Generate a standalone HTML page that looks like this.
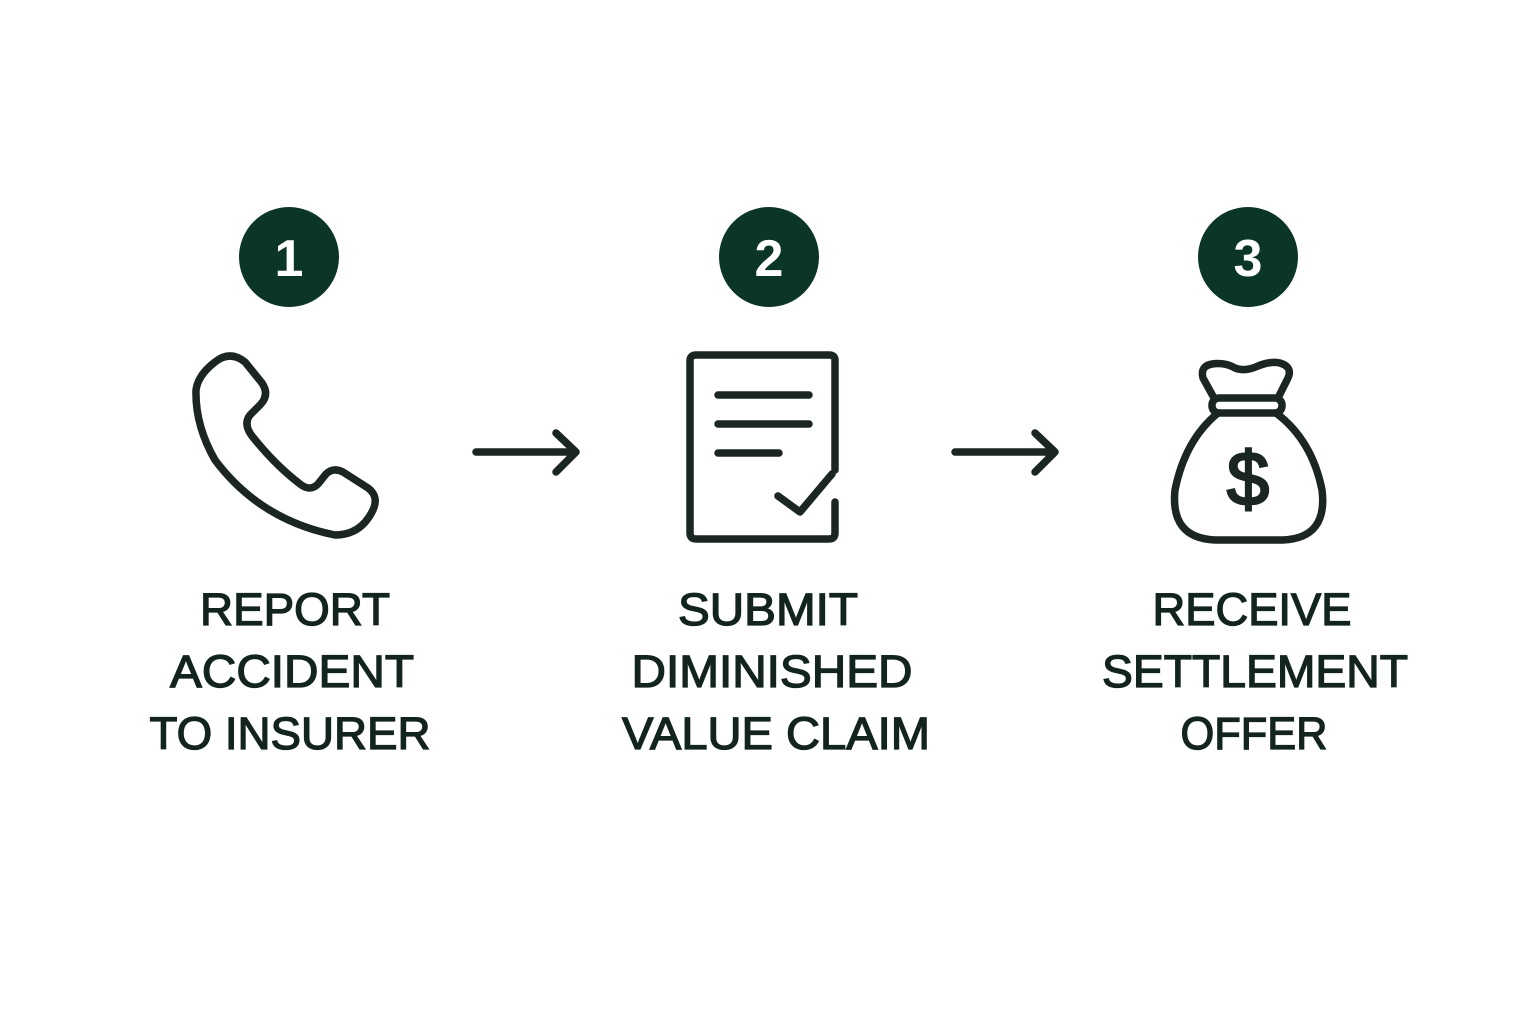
<!DOCTYPE html>
<html><head><meta charset="utf-8"><style>html,body{margin:0;padding:0;background:#fff}svg{display:block}</style></head>
<body>
<svg width="1536" height="1024" viewBox="0 0 1536 1024" xmlns="http://www.w3.org/2000/svg">
<rect width="1536" height="1024" fill="#fff"/>
<g fill="#0b3529">
<circle cx="289" cy="257" r="50"/><circle cx="769" cy="257" r="50"/><circle cx="1248" cy="257" r="50"/>
</g>
<g fill="#fff" font-family="Liberation Sans, sans-serif" font-weight="bold" font-size="52" text-anchor="middle">
<text x="289" y="276">1</text><text x="769" y="276">2</text><text x="1248" y="276">3</text>
</g>
<g fill="none" stroke="#1b2622" stroke-width="7.5" stroke-linecap="round" stroke-linejoin="round">
<path d="M215,362 Q230,350 245,362 L262,383 Q270,395 260,405 L250,415 Q243,424 252,436 Q275,465 300,484 Q310,492 318,484 L326,474 Q333,467 343,472 L368,488 Q380,497 372,512 Q360,535 335,535 Q260,520 215,460 Q195,425 196,390 Q198,375 215,362 Z"/>
<path d="M476,452 H575 M556,433 L576,452 L556,472"/>
<path d="M955,452 H1054 M1035,433 L1055,452 L1035,472"/>
<path d="M835,470 V360 Q835,355 829,355 H696 Q690,355 690,361 V533 Q690,539 696,539 H829 Q835,539 835,533 V502"/>
<path d="M718,395 H809 M718,424 H809 M718,453 H779"/>
<path d="M778,496 L800,512 L832,474"/>
<path d="M1214,398 L1203,378 Q1200,366 1212,364 Q1225,362 1235,368 Q1245,372 1258,366 Q1270,361 1280,363 Q1293,367 1288,378 L1278,398"/>
<rect x="1212" y="398" width="70" height="15" rx="7"/>
<path d="M1218,413 Q1185,440 1175,490 Q1170,538 1215,540 H1283 Q1328,538 1322,490 Q1312,440 1276,413"/>
</g>
<text x="1248" y="505" text-anchor="middle" font-family="Liberation Sans, sans-serif" font-size="76" fill="#1b2622" stroke="#1b2622" stroke-width="2.5">$</text>
<g fill="#13241e" stroke="#13241e" stroke-width="1.3" font-family="Liberation Sans, sans-serif" font-size="45" text-anchor="middle">
<text x="295" y="625" textLength="190" lengthAdjust="spacingAndGlyphs">REPORT</text>
<text x="292" y="687" textLength="244" lengthAdjust="spacingAndGlyphs">ACCIDENT</text>
<text x="290" y="749" textLength="281" lengthAdjust="spacingAndGlyphs">TO INSURER</text>
<text x="768" y="625" textLength="180" lengthAdjust="spacingAndGlyphs">SUBMIT</text>
<text x="772" y="687" textLength="281" lengthAdjust="spacingAndGlyphs">DIMINISHED</text>
<text x="776" y="749" textLength="308" lengthAdjust="spacingAndGlyphs">VALUE CLAIM</text>
<text x="1252" y="625" textLength="199" lengthAdjust="spacingAndGlyphs">RECEIVE</text>
<text x="1255" y="687" textLength="306" lengthAdjust="spacingAndGlyphs">SETTLEMENT</text>
<text x="1254" y="749" textLength="147" lengthAdjust="spacingAndGlyphs">OFFER</text>
</g>
</svg>
</body></html>
